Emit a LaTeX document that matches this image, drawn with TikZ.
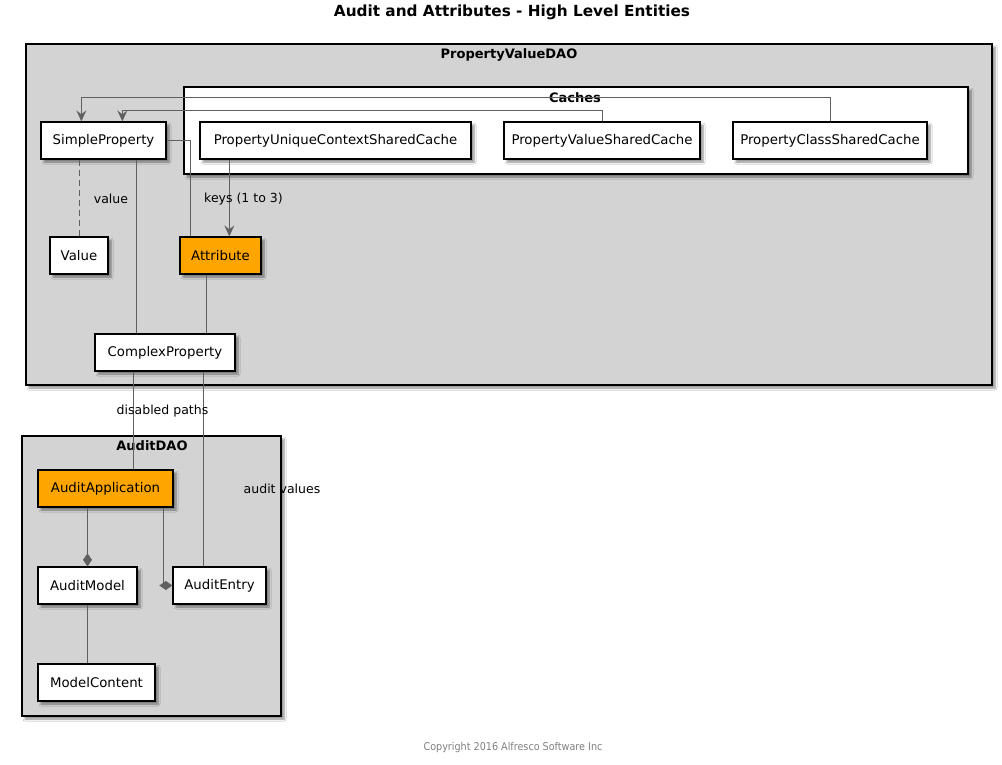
\documentclass[tikz,border=0pt]{standalone}
\usepackage{fontspec}
\setmainfont{DejaVu Sans}
\newfontfamily\condfont{DejaVu Sans Condensed}
\usetikzlibrary{arrows.meta,shadows.blur}
\definecolor{pkggray}{HTML}{D3D3D3}
\definecolor{boxorange}{HTML}{FFA500}
\definecolor{linegray}{HTML}{606060}
\begin{document}
\begin{tikzpicture}[x=1pt,y=-1pt,
  shad/.style={blur shadow={shadow xshift=3pt,shadow yshift=-3pt,shadow blur radius=2pt,shadow blur steps=6,shadow opacity=45}},
  box/.style={draw=black,line width=1.3pt,fill=white,minimum height=37pt,inner sep=0pt,
    font=\fontsize{13.3}{15}\selectfont,shad},
  obox/.style={box,fill=boxorange},
  pkg/.style={draw=black,line width=1.8pt,fill=pkggray,shad},
  cachepkg/.style={draw=black,line width=1.8pt,fill=white,shad},
  pkgtitle/.style={font=\bfseries\fontsize{13}{15}\selectfont,inner sep=0pt},
  conn/.style={draw=linegray,line width=0.8pt},
  arr/.style={conn,-{Stealth[length=11pt,width=10pt,inset=4pt]},color=linegray},
  diam/.style={conn,-{Diamond[length=13pt,width=9pt]},color=linegray},
  lbl/.style={font=\fontsize{12.5}{15}\selectfont,inner sep=0pt}
]
\useasboundingbox (0,0) rectangle (1002,764);
\fill[white] (0,0) rectangle (1002,764);

% title
\node[font=\bfseries\fontsize{15.3}{18}\selectfont] (title) at (512,12) {Audit and Attributes - High Level Entities};

% packages
\draw[pkg] (26,44) rectangle (992,385);
\node[pkgtitle] (pvdaoTitle) at (509,55) {PropertyValueDAO};
\draw[cachepkg] (184,87) rectangle (968,174);
\node[pkgtitle] (cachesTitle) at (575,98) {Caches};
\draw[pkg] (22,436) rectangle (281,716);
\node[pkgtitle] (auditTitle) at (152,446) {AuditDAO};

% nodes
\node[box,minimum width=125pt] (sp) at (103.5,140.5) {SimpleProperty};
\node[box,minimum width=271pt] (pucsc) at (335.5,140.5) {PropertyUniqueContextSharedCache};
\node[box,minimum width=196pt] (pvsc) at (602,140.5) {PropertyValueSharedCache};
\node[box,minimum width=194pt] (pcsc) at (830,140.5) {PropertyClassSharedCache};
\node[box,minimum width=58pt] (value) at (79,255.5) {Value};
\node[obox,minimum width=81pt] (attr) at (220.5,255.5) {Attribute};
\node[box,minimum width=140pt] (cp) at (165,352.5) {ComplexProperty};
\node[obox,minimum width=135pt] (aa) at (105.5,488.5) {AuditApplication};
\node[box,minimum width=99pt] (am) at (87.5,585.5) {AuditModel};
\node[box,minimum width=93pt] (ae) at (219.5,585.5) {AuditEntry};
\node[box,minimum width=117pt] (mc) at (96.5,682.5) {ModelContent};

% connectors
\draw[arr] (pcsc.north) -- ++(0,-24) -| ([xshift=41pt]sp.north west);
\draw[arr] (pvsc.north) -- ++(0,-11) -| ([xshift=82pt]sp.north west);
\draw[conn] (sp.east) -| ([xshift=11pt]attr.north west);
\draw[arr] ([xshift=30pt]pucsc.south west) -- ([xshift=50pt]attr.north west);
\draw[conn,dashed,dash pattern=on 6pt off 4pt] (sp.south -| value.north) -- (value.north);
\draw[conn] ([xshift=96pt]sp.south west) -- ([xshift=42pt]cp.north west);
\draw[conn] ([xshift=27pt]attr.south west) -- ([xshift=112pt]cp.north west);
\draw[conn] ([xshift=39pt]cp.south west) -- ([xshift=96pt]aa.north west);
\draw[conn] ([xshift=109pt]cp.south west) -- ([xshift=31pt]ae.north west);
\draw[diam] (aa.south -| am.north) -- (am.north);
\draw[diam] ([xshift=126pt]aa.south west) |- (ae.west);
\draw[conn] (am.south) -- (am.south |- mc.north);

% labels
\node[lbl] (lvalue) at (111,199) {value};
\node[lbl] (lkeys) at (243.5,199) {keys (1 to 3)};
\node[lbl] (ldis) at (162.5,411) {disabled paths};
\node[lbl] (laudit) at (282,489) {audit values};

% copyright
\node[font=\condfont\fontsize{10.7}{12}\selectfont,text=gray,inner sep=0pt] (copy) at (513,748) {Copyright 2016 Alfresco Software Inc};
\end{tikzpicture}
\end{document}
